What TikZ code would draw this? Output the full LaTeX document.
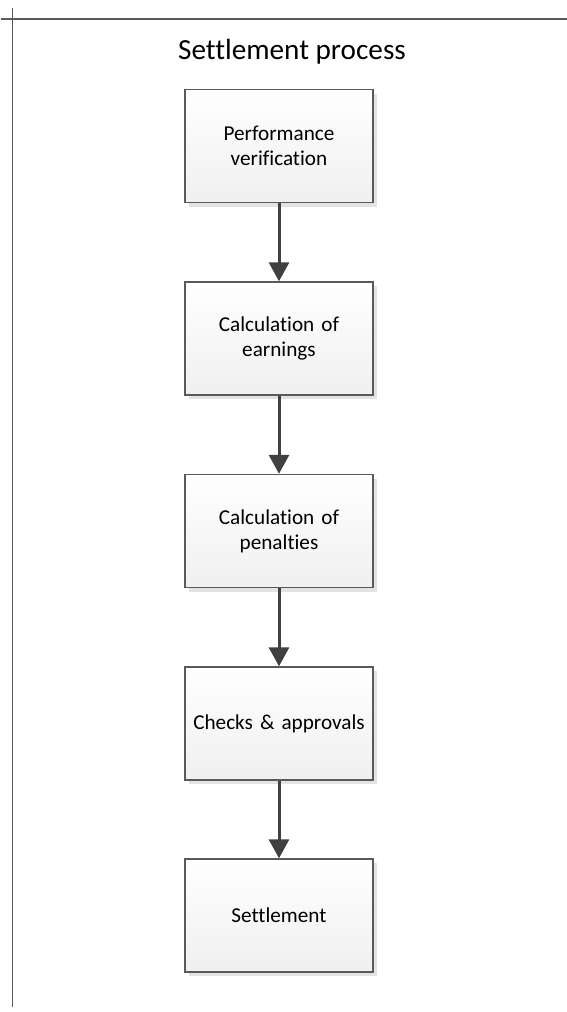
\documentclass[tikz,border=0pt]{standalone}
\usepackage{fontspec}
\setmainfont[Ligatures=NoCommon]{Carlito}
\usetikzlibrary{arrows.meta,shadows}
\definecolor{framegray}{HTML}{5A5A5A}
\definecolor{arrowgray}{HTML}{404040}
\tikzset{
  stepbox/.style={draw=framegray, line width=0.7pt, top color=white, bottom color=black!6,
    drop shadow={shadow xshift=2pt, shadow yshift=-2pt, fill=black!11, opacity=1},
    minimum width=94pt, minimum height=56.5pt, inner sep=0pt, text width=90pt, align=center,
    font=\fontsize{10.6}{12.5}\selectfont},
  flow/.style={arrowgray, line width=1.5pt, -{Triangle[width=10pt,length=9.5pt]}}
}
\begin{document}
\begin{tikzpicture}[x=0.5pt,y=-0.5pt]
    \useasboundingbox (0,0) rectangle (567,1012);
    \coordinate (hl) at (1,19); \coordinate (hr) at (567,19);
    \coordinate (vt) at (12.5,8); \coordinate (vb) at (12.5,1007);
    \draw[framegray, line width=0.75pt] (hl) -- (hr); \draw[framegray, line width=0.75pt] (vt) -- (vb);
    \node[font=\fontsize{14.6}{17}\selectfont] (title) at (292,52){Settlement process};
    \node[stepbox] (verif) at (279,146){Performance\\verification};
    \node[stepbox] (earn) at (279,338.5){Calculation of\\earnings};
    \node[stepbox] (pen) at (279,531){Calculation of\\penalties};
    \node[stepbox] (check) at (279,723.5){Checks \& approvals};
    \node[stepbox] (settle) at (279,915.5){Settlement};
    \draw[flow] (verif) -- (earn); \draw[flow] (earn) -- (pen);
    \draw[flow] (pen) -- (check); \draw[flow] (check) -- (settle);
  \end{tikzpicture}
\end{document}
